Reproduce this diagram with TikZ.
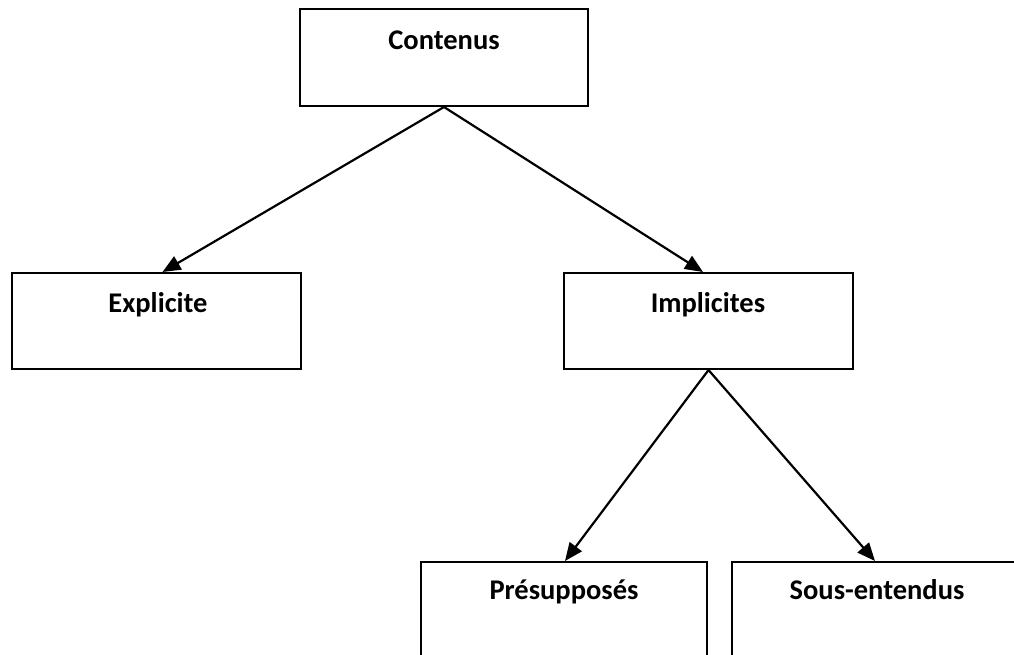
\documentclass[tikz,border=0pt]{standalone}
\usepackage{fontspec}
\setmainfont{Carlito}
\usetikzlibrary{arrows.meta}
\begin{document}
\begin{tikzpicture}[x=1pt,y=-1pt,
  box/.style={draw, line width=2pt, rectangle, inner sep=0pt},
  lbl/.style={font=\bfseries\fontsize{28.5}{34}\selectfont, anchor=base, inner sep=0pt},
  arr/.style={line width=2.2pt, -{Triangle[length=18pt,width=15pt]}}]
\useasboundingbox (0,0) rectangle (1014,655);
\clip (0,0) rectangle (1014,655);
\node[box, minimum width=288pt, minimum height=97pt] (c) at (444,57.5) {};
\node[box, minimum width=289pt, minimum height=96pt] (e) at (156.5,321) {};
\node[box, minimum width=289pt, minimum height=96pt] (i) at (708.5,321) {};
\node[box, minimum width=286pt, minimum height=96pt] (p) at (564,610) {};
\node[box, minimum width=290pt, minimum height=96pt] (s) at (877,610) {};
\node[lbl] (ct) at (444,50) {Contenus};
\node[lbl] (et) at (158,312) {Explicite};
\node[lbl] (it) at (708,312) {Implicites};
\node[lbl] (pt) at (564,599) {Présupposés};
\node[lbl] (st) at (877,599) {Sous-entendus};
\draw[arr] (c.south) -- ([xshift=6pt]e.north);
\draw[arr] (c.south) -- ([xshift=-5.5pt]i.north);
\draw[arr] (i.south) -- ([xshift=1pt]p.north);
\draw[arr] (i.south) -- ([xshift=-2pt]s.north);
\end{tikzpicture}
\end{document}
